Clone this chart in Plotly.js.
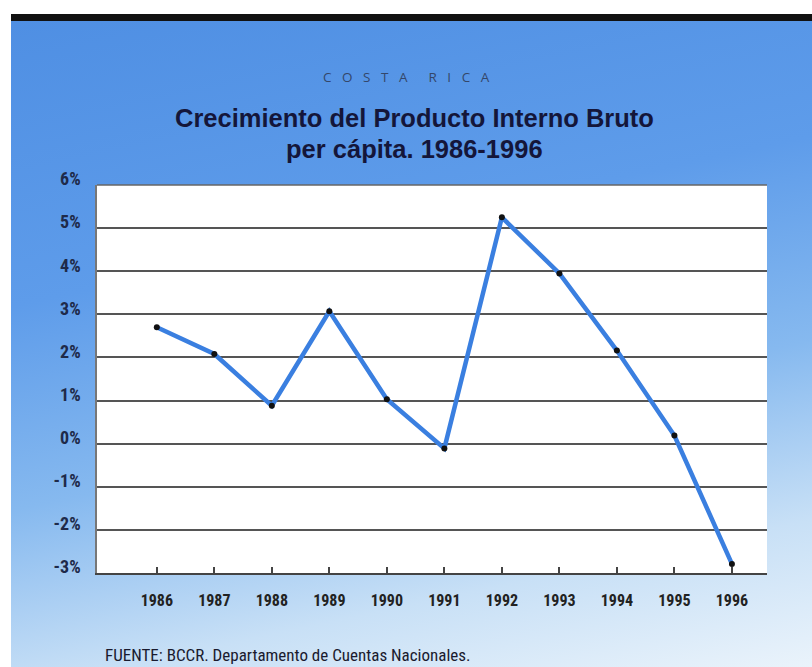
<!DOCTYPE html>
<html>
<head>
<meta charset="utf-8">
<script src="https://cdn.plot.ly/plotly-3.0.1.min.js"></script>
<style>
  html, body { margin: 0; padding: 0; background: #ffffff; }
  #wrap { position: relative; width: 812px; height: 667px; overflow: hidden; background: #ffffff; }
  #panel { position: absolute; left: 11px; top: 14px; width: 801px; height: 653px;
           border-top: 7px solid #111111; box-sizing: border-box;
           background: linear-gradient(168deg, #4f8fe3 0%, #5e9cea 35%, #86b9ef 60%, #c8e0f6 82%, #eaf3fb 100%); }
  #chart { position: absolute; left: 0; top: 0; width: 812px; height: 667px; }
</style>
</head>
<body>
<div id="wrap">
  <div id="panel"></div>
  <div id="chart"></div>
</div>
<script>
const years = [1986, 1987, 1988, 1989, 1990, 1991, 1992, 1993, 1994, 1995, 1996];
const growth = [2.70, 2.08, 0.88, 3.07, 1.03, -0.11, 5.25, 3.95, 2.16, 0.19, -2.79];
const yTicks = [-3, -2, -1, 0, 1, 2, 3, 4, 5, 6];
const yTickLabels = ['-3%', '-2%', '-1%', '0%', '1%', '2%', '3%', '4%', '5%', '6%'];
const xTickLabels = years.map(String);

const NARROW = '"Liberation Sans Narrow", "Arial Narrow", "Roboto Condensed", sans-serif';
const SANS = '"Liberation Sans", Arial, sans-serif';
const SP = '\u00a0\u00a0\u00a0';

const trace = {
  x: years,
  y: growth,
  type: 'scatter',
  mode: 'lines+markers',
  line: { color: '#3a7fe0', width: 4.5 },
  marker: { color: '#111111', size: 6 },
  hoverinfo: 'x+y'
};

// paper-coordinate helpers (plot area: x 97..767, y 185..573)
const px = v => (v - 97) / 670;
const py = v => (573 - v) / 388;

const layout = {
  width: 812,
  height: 667,
  margin: { l: 97, r: 45, t: 185, b: 94 },
  paper_bgcolor: 'rgba(0,0,0,0)',
  plot_bgcolor: '#ffffff',
  showlegend: false,
  xaxis: {
    range: [1984.96, 1996.61],
    tickvals: years,
    ticktext: xTickLabels,
    ticks: 'inside',
    ticklen: 6,
    tickwidth: 1.5,
    tickcolor: '#444444',
    showgrid: false,
    zeroline: false,
    showline: true,
    linecolor: '#444444',
    linewidth: 2,
    tickfont: { family: NARROW, size: 16, color: '#222222', weight: 'bold' },
    ticklabelstandoff: 12,
    fixedrange: true
  },
  yaxis: {
    range: [-3, 6],
    tickvals: yTicks,
    ticktext: yTickLabels,
    ticks: '',
    showgrid: true,
    gridcolor: '#555555',
    gridwidth: 1.5,
    zeroline: false,
    showline: true,
    linecolor: '#777777',
    linewidth: 1.5,
    mirror: false,
    tickfont: { family: NARROW, size: 18, color: '#1e2a4a', weight: 'bold' },
    ticklabelstandoff: 11,
    ticklabelshift: -6,
    fixedrange: true
  },
  shapes: [
    { type: 'line', xref: 'paper', yref: 'paper', x0: 0, x1: 1, y0: 1, y1: 1,
      line: { color: '#666666', width: 1.5 } }
  ],
  annotations: [
    { text: ['C','O','S','T','A'].join(SP) + SP + SP + ['R','I','C','A'].join(SP),
      xref: 'paper', yref: 'paper', x: px(406), y: py(77),
      xanchor: 'center', yanchor: 'middle', showarrow: false,
      font: { family: '"Open Sans", sans-serif', size: 13.5, color: '#34476a' } },
    { text: 'Crecimiento del Producto Interno Bruto',
      xref: 'paper', yref: 'paper', x: px(414), y: py(118),
      xanchor: 'center', yanchor: 'middle', showarrow: false,
      font: { family: SANS, size: 25.5, color: '#14163a', weight: 'bold' } },
    { text: 'per cápita. 1986-1996',
      xref: 'paper', yref: 'paper', x: px(414), y: py(149),
      xanchor: 'center', yanchor: 'middle', showarrow: false,
      font: { family: SANS, size: 25.5, color: '#14163a', weight: 'bold' } },
    { text: 'FUENTE: BCCR. Departamento de Cuentas Nacionales.',
      xref: 'paper', yref: 'paper', x: px(103), y: py(655),
      xanchor: 'left', yanchor: 'middle', showarrow: false,
      font: { family: NARROW, size: 17, color: '#1a1a2e' } }
  ]
};

Plotly.newPlot('chart', [trace], layout, { displayModeBar: false });
</script>
</body>
</html>
